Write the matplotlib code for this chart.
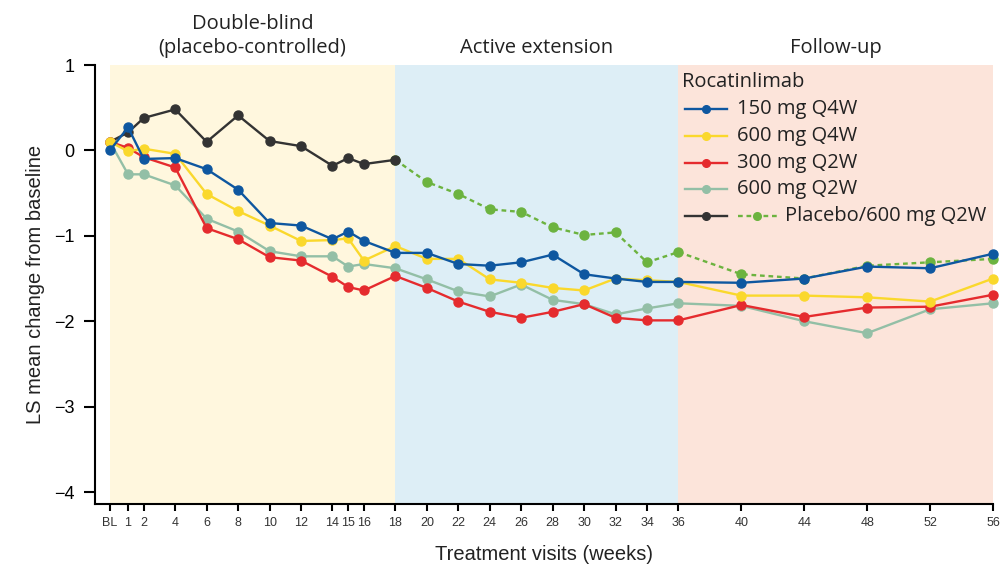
import matplotlib as mpl
mpl.use('Agg')
import matplotlib.pyplot as plt
from matplotlib.lines import Line2D

# Visit weeks (BL drawn just left of week 0 as on the original axis)
weeks = [-0.15, 1, 2, 4, 6, 8, 10, 12, 14, 15, 16, 18, 20, 22, 24, 26, 28, 30, 32, 34, 36, 40, 44, 48, 52, 56]
tick_labels = ['BL', '1', '2', '4', '6', '8', '10', '12', '14', '15', '16', '18', '20', '22', '24', '26',
               '28', '30', '32', '34', '36', '40', '44', '48', '52', '56']

# LS mean change from baseline
q4w_150 = [0.00, 0.27, -0.10, -0.09, -0.22, -0.46, -0.85, -0.88, -1.04, -0.95, -1.06, -1.20, -1.20, -1.33,
           -1.35, -1.31, -1.22, -1.45, -1.50, -1.54, -1.54, -1.55, -1.50, -1.36, -1.38, -1.21]
q4w_600 = [0.10, -0.01, 0.02, -0.04, -0.51, -0.71, -0.88, -1.06, -1.05, -1.03, -1.29, -1.12, -1.27, -1.27,
           -1.51, -1.55, -1.61, -1.64, -1.50, -1.52, -1.54, -1.70, -1.70, -1.72, -1.77, -1.50]
q2w_300 = [0.10, 0.03, -0.08, -0.20, -0.91, -1.04, -1.25, -1.29, -1.48, -1.60, -1.64, -1.47, -1.61, -1.77,
           -1.89, -1.96, -1.89, -1.80, -1.96, -1.99, -1.99, -1.81, -1.95, -1.84, -1.83, -1.69]
q2w_600 = [0.10, -0.28, -0.28, -0.41, -0.80, -0.95, -1.18, -1.24, -1.24, -1.36, -1.33, -1.38, -1.51, -1.65,
           -1.71, -1.57, -1.75, -1.80, -1.92, -1.85, -1.79, -1.82, -2.00, -2.14, -1.86, -1.79]

# Placebo through week 18, then switched to 600 mg Q2W
placebo_weeks = [-0.15, 1, 2, 4, 6, 8, 10, 12, 14, 15, 16, 18]
placebo = [0.10, 0.21, 0.38, 0.48, 0.10, 0.41, 0.11, 0.05, -0.18, -0.09, -0.16, -0.11]
switch_weeks = [18, 20, 22, 24, 26, 28, 30, 32, 34, 36, 40, 44, 48, 52, 56]
switch = [-0.11, -0.37, -0.51, -0.69, -0.72, -0.90, -0.99, -0.96, -1.31, -1.19, -1.45, -1.50, -1.35, -1.31, -1.27]

# Study periods
periods = [(-0.15, 18, '#FFF7DE', 'Double-blind\n(placebo-controlled)'),
           (18, 36, '#DDEEF6', 'Active extension'),
           (36, 56, '#FCE4DA', 'Follow-up')]

c_blue = '#0E57A0'
c_yellow = '#FAD82C'
c_red = '#E52B2E'
c_gray = '#93BFA6'
c_black = '#333333'
c_green = '#6CB33F'

title_font = 'Open Sans'
fs_title = 14.5
fig = plt.figure(figsize=(10.04, 5.74), dpi=100)
ax = fig.add_axes([95/1004, 1-504/574, (993-95)/1004, (504-65)/574])

for x0, x1, col, name in periods:
    ax.axvspan(x0, x1, color=col, lw=0, zorder=0)
    ax.text((x0 + x1) / 2, 1.027, name, transform=ax.get_xaxis_transform(), ha='center', va='baseline',
            fontsize=fs_title, family=title_font, color='#222222', linespacing=1.25)

lw = 1.7
ms = 6.5
ax.plot(switch_weeks, switch, color=c_green, lw=lw, ls=(0, (2, 1.6)), marker='o', ms=ms, clip_on=False, zorder=2)
ax.plot(placebo_weeks, placebo, color=c_black, lw=lw, marker='o', ms=ms, clip_on=False, zorder=3)
ax.plot(weeks, q2w_600, color=c_gray, lw=lw, marker='o', ms=ms, clip_on=False, zorder=4)
ax.plot(weeks, q2w_300, color=c_red, lw=lw, marker='o', ms=ms, clip_on=False, zorder=5)
ax.plot(weeks, q4w_600, color=c_yellow, lw=lw, marker='o', ms=ms, clip_on=False, zorder=6)
ax.plot(weeks, q4w_150, color=c_blue, lw=lw, marker='o', ms=ms, clip_on=False, zorder=7)

ax.set_xlim(-1.1, 56)
ax.set_ylim(-4.14, 1.0)
ax.set_xticks(weeks)
ax.set_xticklabels(tick_labels, fontsize=9, family='Liberation Sans', color='#333333')
ax.set_yticks([1, 0, -1, -2, -3, -4])
ax.set_yticklabels(['1', '0', '\u22121', '\u22122', '\u22123', '\u22124'], fontsize=13, family='Liberation Sans')
ax.tick_params(axis='y', length=8, width=1.5, pad=7)
ax.tick_params(axis='x', length=5, width=1.5, pad=4)
for s in ['top', 'right']:
    ax.spines[s].set_visible(False)
for s in ['left', 'bottom']:
    ax.spines[s].set_linewidth(1.5)

ax.set_ylabel('LS mean change from baseline', fontsize=14.5, family='Liberation Sans', color='#222222', labelpad=6)
ax.set_xlabel('Treatment visits (weeks)', fontsize=14.5, family='Liberation Sans', color='#222222', labelpad=12)

# Legend drawn by hand so the placebo entry can carry two samples
def fx(px):
    return px / 1004

def fy(py):
    return 1 - py / 574

fig.text(fx(682), fy(82), 'Rocatinlimab', fontsize=fs_title, family=title_font, va='center', ha='left', color='#222222')
entries = [(c_blue, '150 mg Q4W', 109), (c_yellow, '600 mg Q4W', 136), (c_red, '300 mg Q2W', 162.5),
           (c_gray, '600 mg Q2W', 189)]
for col, lab, py in entries:
    fig.add_artist(Line2D([fx(685), fx(727)], [fy(py), fy(py)], color=col, lw=lw))
    fig.add_artist(Line2D([fx(706)], [fy(py)], color=col, marker='o', ms=ms - 1))
    fig.text(fx(737), fy(py), lab, fontsize=fs_title, family=title_font, va='center', ha='left', color='#222222')
py = 215.5
fig.add_artist(Line2D([fx(685), fx(727)], [fy(py), fy(py)], color=c_black, lw=lw))
fig.add_artist(Line2D([fx(706)], [fy(py)], color=c_black, marker='o', ms=ms - 1))
fig.add_artist(Line2D([fx(738), fx(778)], [fy(py), fy(py)], color=c_green, lw=lw, ls=(0, (2, 1.6))))
fig.add_artist(Line2D([fx(757)], [fy(py)], color=c_green, marker='o', ms=ms - 1))
fig.text(fx(785), fy(py), 'Placebo/600 mg Q2W', fontsize=fs_title, family=title_font, va='center', ha='left', color='#222222')

plt.savefig('out.png', dpi=100)
plt.close()
